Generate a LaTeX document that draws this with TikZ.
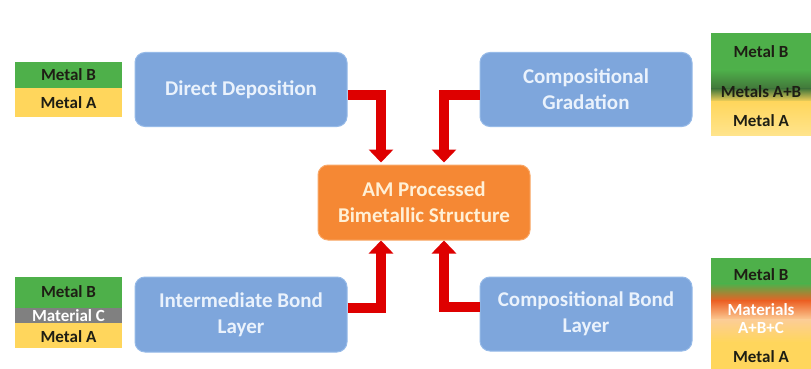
\documentclass[tikz,border=0pt]{standalone}
\usepackage{fontspec}
\setmainfont{Carlito}
\usetikzlibrary{arrows.meta,calc}
\definecolor{boxblue}{RGB}{126,166,220}
\definecolor{boxblueedge}{RGB}{150,186,232}
\definecolor{boxtext}{RGB}{234,242,252}
\definecolor{amorange}{RGB}{245,136,52}
\definecolor{amedge}{RGB}{249,168,104}
\definecolor{amtext}{RGB}{255,240,214}
\definecolor{arrred}{RGB}{222,0,0}
\definecolor{mgreen}{RGB}{78,176,74}
\definecolor{mdgreen}{RGB}{66,118,58}
\definecolor{myellow}{RGB}{255,214,92}
\definecolor{mlyellow}{RGB}{255,228,140}
\definecolor{mgray}{RGB}{128,128,128}
\definecolor{morange}{RGB}{236,96,36}
\definecolor{mpeach}{RGB}{252,205,150}
\definecolor{swtext}{RGB}{30,30,20}
\begin{document}
\begin{tikzpicture}[x=1pt,y=-1pt,
  bluebox/.style={rounded corners=10pt, fill=boxblue, draw=boxblueedge, line width=1pt,
    minimum width=212pt, minimum height=74pt, inner sep=0pt, align=center,
    text=boxtext, font=\fontsize{21}{26}\selectfont\bfseries},
  ambox/.style={bluebox, fill=amorange, draw=amedge, text=amtext},
  redarrow/.style={draw=arrred, line width=10pt, line join=miter,
    -{Triangle[width=24pt,length=13pt]}},
  swlabel/.style={font=\fontsize{17}{19}\selectfont\bfseries, text=swtext, inner sep=0pt},
  swwhite/.style={swlabel, text=white}]
\useasboundingbox (0,0) rectangle (811,369);
\fill[white] (0,0) rectangle (811,369);

% main boxes
\node[bluebox] (dd) at (241,89.5) {Direct Deposition};
\node[bluebox] (cg) at (586,89.5) {Compositional\\Gradation};
\node[bluebox, minimum height=75pt] (ib) at (241,314.5) {Intermediate Bond\\Layer};
\node[bluebox] (cb) at (586,314) {Compositional Bond\\Layer};
\node[ambox, minimum height=75pt] (am) at (424,202.5) {AM Processed\\Bimetallic Structure};

\coordinate (xL) at (381,0);
\coordinate (xR) at (444,0);

% arrows
\draw[redarrow] ([yshift=-5.5pt]dd.east) -| ([yshift=2pt]am.north -| xL);
\draw[redarrow] ([yshift=-5.5pt]cg.west) -| ([yshift=2pt]am.north -| xR);
\draw[redarrow] ([yshift=7pt]ib.east) -| (am.south -| xL);
\draw[redarrow] ([yshift=7pt]cb.west) -| (am.south -| xR);

% top-left swatch
\fill[mgreen] (15,62) rectangle (122,88);
\fill[myellow] (15,88) rectangle (122,117);
\node[swlabel] (tlB) at (68.5,75) {Metal B};
\node[swlabel] (tlA) at (68.5,102.5) {Metal A};

% top-right swatch
\fill[mgreen] (711,33) rectangle (811,70);
\shade[top color=mgreen, bottom color=mdgreen] (711,69.5) rectangle (811,89);
\shade[top color=mdgreen, bottom color=myellow] (711,88.5) rectangle (811,102);
\shade[top color=myellow, bottom color=mlyellow] (711,101.5) rectangle (811,135);
\node[swlabel] (trB) at (761,52) {Metal B};
\node[swlabel] (trAB) at (761,92) {Metals A+B};
\node[swlabel] (trA) at (761,121) {Metal A};

% bottom-left swatch
\fill[mgreen] (15,277) rectangle (122,308);
\fill[mgray] (15,308) rectangle (122,323);
\fill[myellow] (15,323) rectangle (122,348);
\node[swlabel] (blB) at (68.5,292) {Metal B};
\node[swwhite] (blC) at (68.5,315.5) {Material C};
\node[swlabel] (blA) at (68.5,337) {Metal A};

% bottom-right swatch
\fill[mgreen] (711,258) rectangle (811,284);
\shade[top color=mgreen, bottom color=morange] (711,283.5) rectangle (811,301);
\shade[top color=morange, bottom color=mpeach] (711,300.5) rectangle (811,320);
\shade[top color=mpeach, bottom color=myellow] (711,319.5) rectangle (811,342);
\fill[myellow] (711,341.5) rectangle (811,369);
\node[swlabel] (brB) at (761,275) {Metal B};
\node[swwhite] (brM) at (761,310) {Materials};
\node[swwhite] (brABC) at (761,328) {A+B+C};
\node[swlabel] (brA) at (761,357) {Metal A};
\end{tikzpicture}
\end{document}
